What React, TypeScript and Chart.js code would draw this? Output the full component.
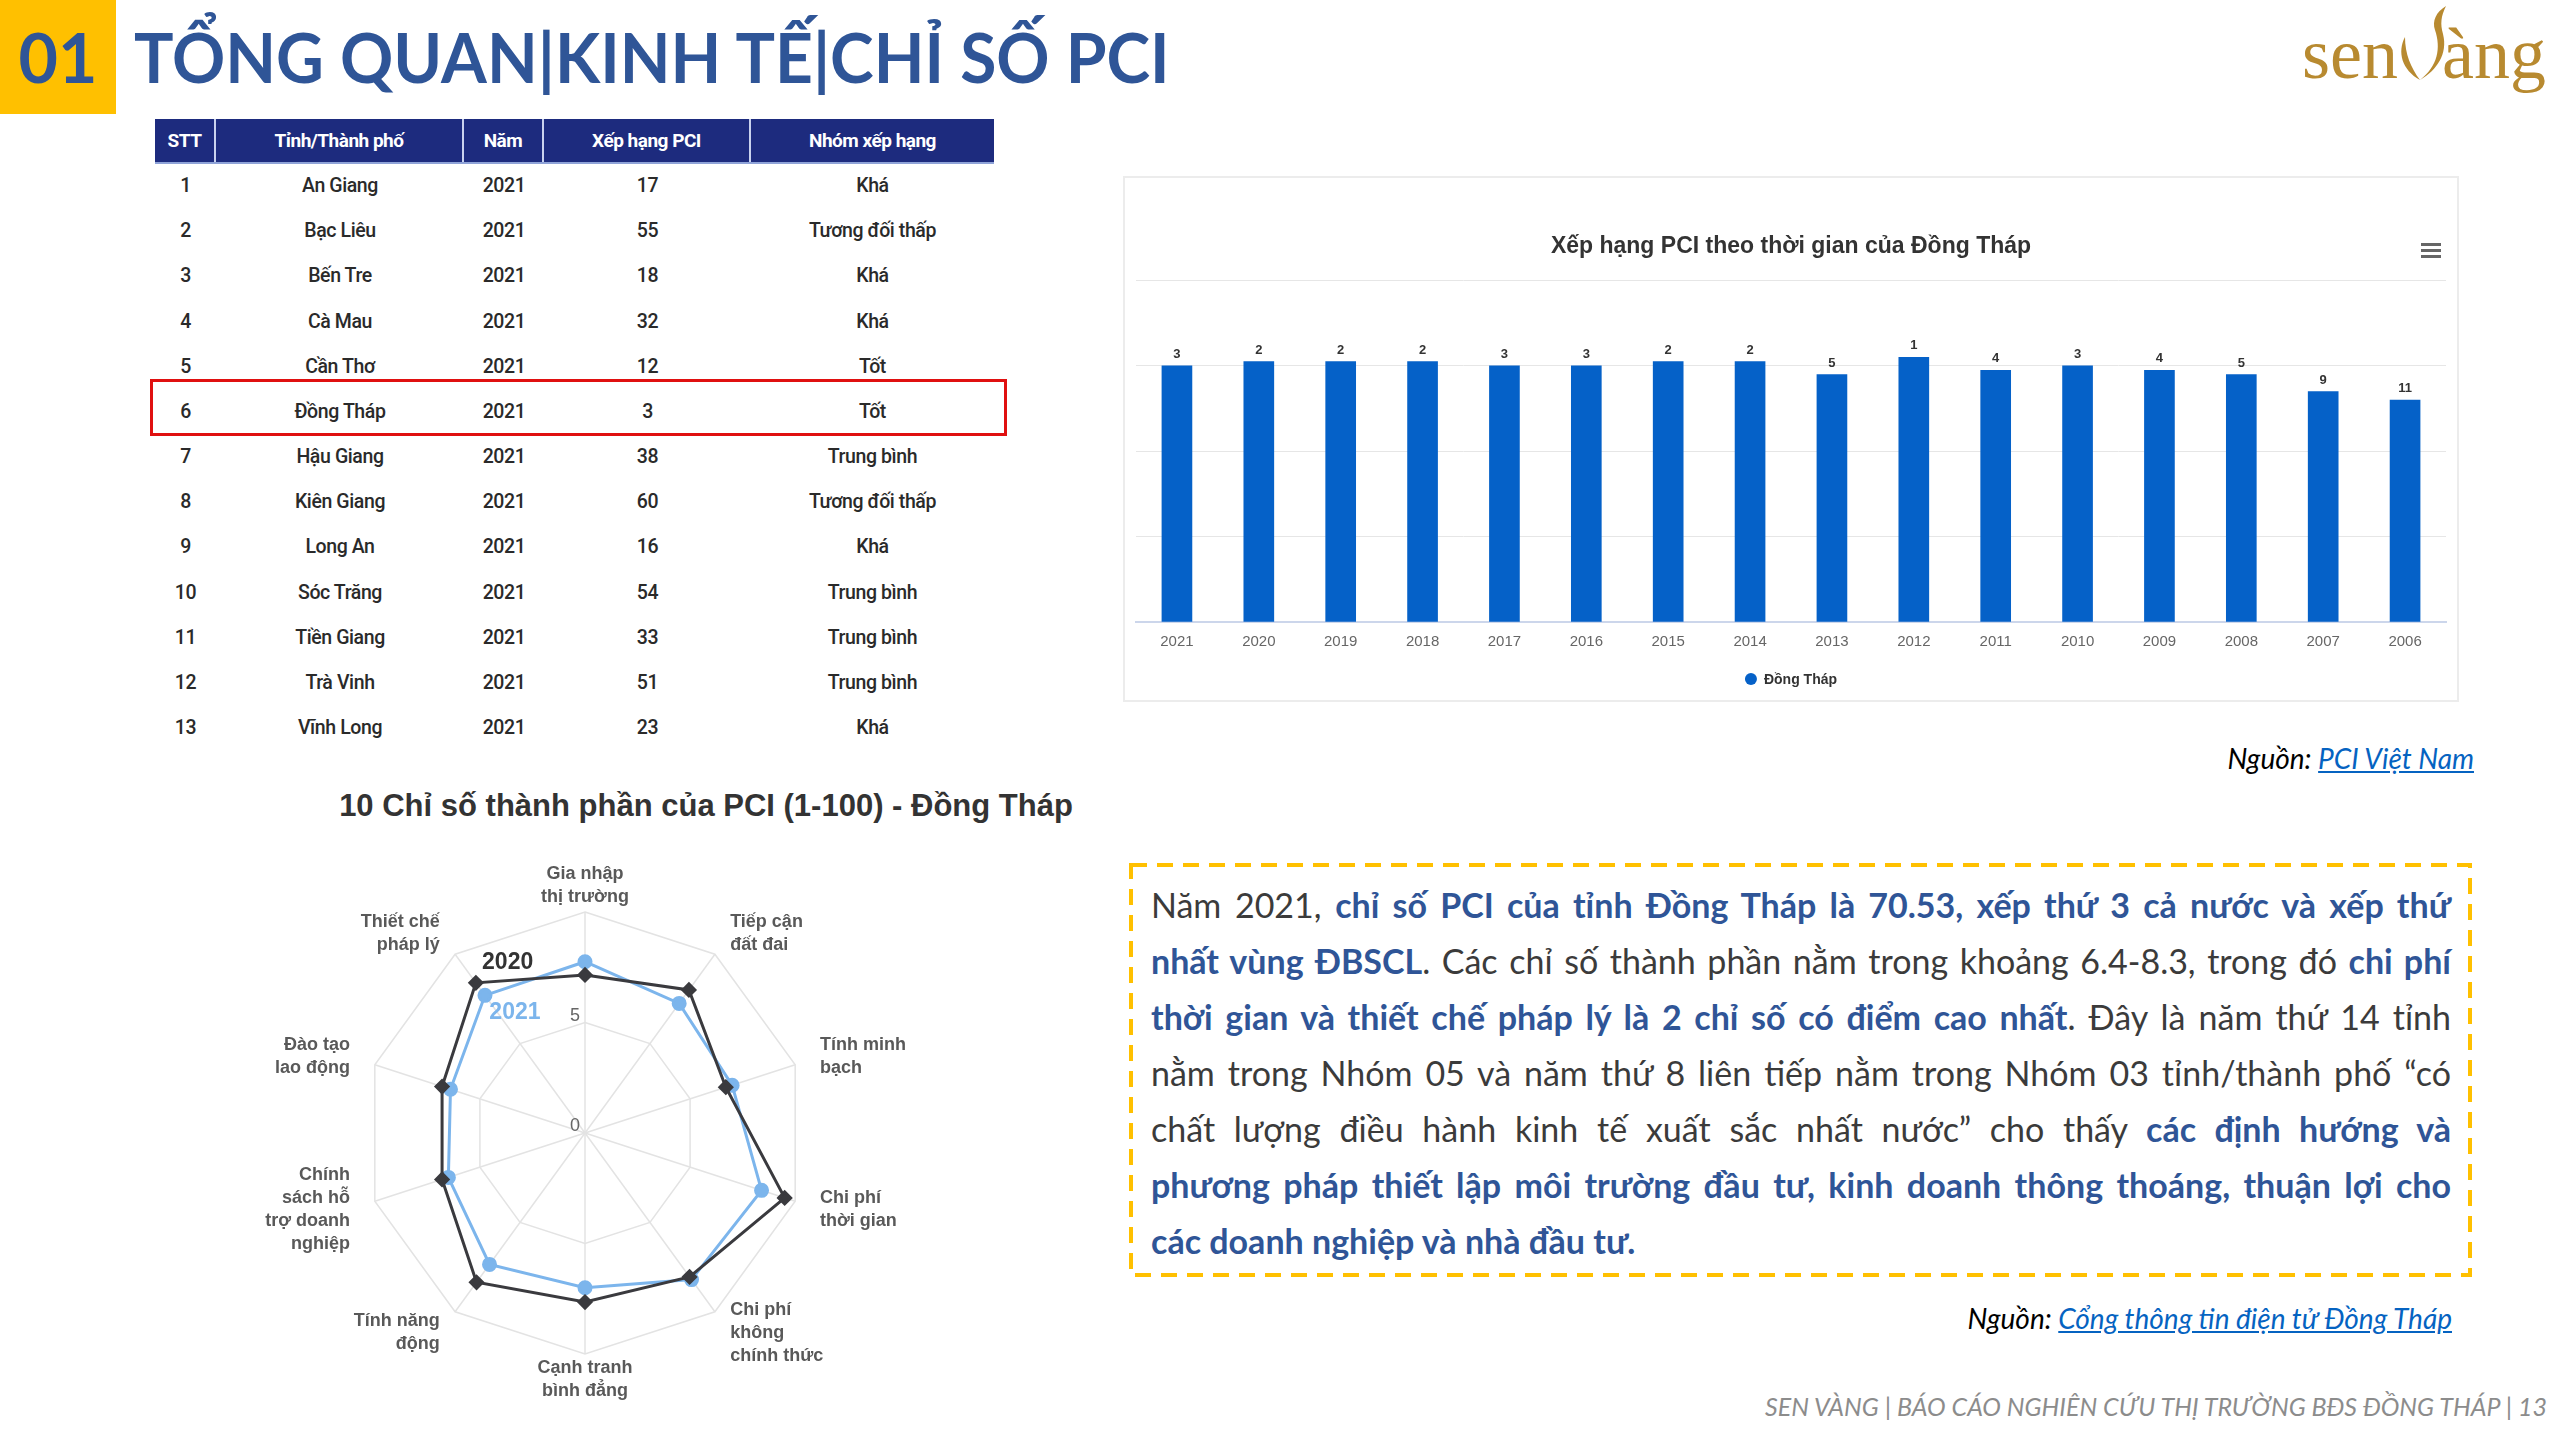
import React, { useEffect, useRef } from "react";
import { Chart, registerables } from "chart.js";

Chart.register(...registerables);

// ---------------- DATA ----------------
const tableHeaders = ["STT", "Tỉnh/Thành phố", "Năm", "Xếp hạng PCI", "Nhóm xếp hạng"];
const tableIndex = ["1", "2", "3", "4", "5", "6", "7", "8", "9", "10", "11", "12", "13"];
const tableProvinces = ["An Giang", "Bạc Liêu", "Bến Tre", "Cà Mau", "Cần Thơ", "Đồng Tháp", "Hậu Giang", "Kiên Giang", "Long An", "Sóc Trăng", "Tiền Giang", "Trà Vinh", "Vĩnh Long"];
const tableYears = ["2021", "2021", "2021", "2021", "2021", "2021", "2021", "2021", "2021", "2021", "2021", "2021", "2021"];
const tableRanks = ["17", "55", "18", "32", "12", "3", "38", "60", "16", "54", "33", "51", "23"];
const tableGroups = ["Khá", "Tương đối thấp", "Khá", "Khá", "Tốt", "Tốt", "Trung bình", "Tương đối thấp", "Khá", "Trung bình", "Trung bình", "Trung bình", "Khá"];
const highlightedRow = 5;

const barTitle = "Xếp hạng PCI theo thời gian của Đồng Tháp";
const barSeriesName = "Đồng Tháp";
const barYears = ["2021", "2020", "2019", "2018", "2017", "2016", "2015", "2014", "2013", "2012", "2011", "2010", "2009", "2008", "2007", "2006"];
const barRanks = [3, 2, 2, 2, 3, 3, 2, 2, 5, 1, 4, 3, 4, 5, 9, 11];
const barHeights = [60, 61, 61, 61, 60, 60, 61, 61, 58, 62, 59, 60, 59, 58, 54, 52];
const barYMax = 80;
const barYStep = 20;

const radarTitle = "10 Chỉ số thành phần của PCI (1-100) - Đồng Tháp";
const radarAxes = [
  ["Gia nhập", "thị trường"],
  ["Tiếp cận", "đất đai"],
  ["Tính minh", "bạch"],
  ["Chi phí", "thời gian"],
  ["Chi phí", "không", "chính thức"],
  ["Cạnh tranh", "bình đẳng"],
  ["Tính năng", "động"],
  ["Chính", "sách hỗ", "trợ doanh", "nghiệp"],
  ["Đào tạo", "lao động"],
  ["Thiết chế", "pháp lý"],
];
const radarSeriesNames = ["2020", "2021"];
const radar2020 = [7.15, 8.0, 6.7, 9.5, 8.05, 7.65, 8.35, 6.8, 6.8, 8.4];
const radar2021 = [7.75, 7.25, 7.0, 8.4, 8.2, 7.0, 7.35, 6.5, 6.4, 7.7];
const radarMax = 10;
const radarStep = 5;
const radarTickLabels = [0, 5];

const headerNumber = "01";
const headerTitle = "TỔNG QUAN|KINH TẾ|CHỈ SỐ PCI";
const source1Label = "Nguồn: ";
const source1Link = "PCI Việt Nam";
const source2Label = "Nguồn: ";
const source2Link = "Cổng thông tin điện tử Đồng Tháp";
const footerText = "SEN VÀNG | BÁO CÁO NGHIÊN CỨU THỊ TRƯỜNG BĐS ĐỒNG THÁP | 13";

// each line: [text, emphasised]
const summaryLines: [string, boolean][][] = [
  [["Năm 2021, ", false], ["chỉ số PCI của tỉnh Đồng Tháp là 70.53, xếp thứ 3 cả nước và xếp thứ", true]],
  [["nhất vùng ĐBSCL", true], [". Các chỉ số thành phần nằm trong khoảng 6.4-8.3, trong đó ", false], ["chi phí", true]],
  [["thời gian và thiết chế pháp lý là 2 chỉ số có điểm cao nhất", true], [". Đây là năm thứ 14 tỉnh", false]],
  [["nằm trong Nhóm 05 và năm thứ 8 liên tiếp nằm trong Nhóm 03 tỉnh/thành phố “có", false]],
  [["chất lượng điều hành kinh tế xuất sắc nhất nước” cho thấy ", false], ["các định hướng và", true]],
  [["phương pháp thiết lập môi trường đầu tư, kinh doanh thông thoáng, thuận lợi cho", true]],
  [["các doanh nghiệp và nhà đầu tư.", true]],
];

// ---------------- STYLE ----------------
const UI = "'Liberation Sans', Arial, sans-serif";
const SLIDE = "Lato, 'Open Sans', sans-serif";
const NAVY = "#2F5597";
const GOLD = "#FFC000";
const BAR_BLUE = "#0561c8";

function BarChart() {
  const ref = useRef<HTMLCanvasElement | null>(null);
  useEffect(() => {
    if (!ref.current) return;
    const overlay = {
      id: "barOverlay",
      afterDatasetsDraw(chart: any) {
        const { ctx } = chart;
        const meta = chart.getDatasetMeta(0);
        ctx.save();
        ctx.font = `bold 13px ${UI}`;
        ctx.fillStyle = "#333333";
        ctx.textAlign = "center";
        ctx.textBaseline = "bottom";
        meta.data.forEach((bar: any, i: number) => {
          ctx.fillText(String(barRanks[i]), bar.x, bar.y - 5);
        });
        // legend
        const a = chart.chartArea;
        const cx = (a.left + a.right) / 2;
        const ly = a.bottom + 57;
        ctx.font = `bold 14px ${UI}`;
        const tw = ctx.measureText(barSeriesName).width;
        const total = 12 + 7 + tw;
        const x0 = cx - total / 2;
        ctx.fillStyle = BAR_BLUE;
        ctx.beginPath();
        ctx.arc(x0 + 6, ly, 6, 0, Math.PI * 2);
        ctx.fill();
        ctx.fillStyle = "#333333";
        ctx.textAlign = "left";
        ctx.textBaseline = "middle";
        ctx.fillText(barSeriesName, x0 + 19, ly + 1);
        ctx.restore();
      },
    };
    const chart = new Chart(ref.current, {
      type: "bar",
      data: {
        labels: barYears,
        datasets: [
          {
            label: barSeriesName,
            data: barHeights,
            backgroundColor: BAR_BLUE,
            barThickness: 30,
          },
        ],
      },
      options: {
        animation: false,
        responsive: false,
        maintainAspectRatio: false,
        layout: { padding: { left: 13, right: 13, top: 47, bottom: 40 } },
        plugins: {
          legend: { display: false },
          tooltip: { enabled: false },
          title: {
            display: true,
            text: barTitle,
            color: "#333333",
            font: { family: UI, size: 23, weight: "bold" },
            padding: { top: 10, bottom: 20 },
          },
        },
        scales: {
          x: {
            grid: { display: false, drawTicks: false },
            border: { display: true, color: "#ccd6eb", width: 2 },
            ticks: { color: "#666666", font: { family: UI, size: 15 }, padding: 11 },
          },
          y: {
            min: 0,
            max: barYMax,
            ticks: { display: false, stepSize: barYStep },
            grid: { color: "#e6e6e6", drawTicks: false, lineWidth: 1 },
            border: { display: false },
          },
        },
      },
      plugins: [overlay],
    } as any);
    return () => chart.destroy();
  }, []);
  return (
    <canvas
      ref={ref}
      width={1336}
      height={526}
      style={{ position: "absolute", left: 1123, top: 176, width: 1336, height: 526 }}
    />
  );
}

function RadarChart() {
  const ref = useRef<HTMLCanvasElement | null>(null);
  useEffect(() => {
    if (!ref.current) return;
    const overlay = {
      id: "radarOverlay",
      afterDraw(chart: any) {
        const { ctx } = chart;
        const s = chart.scales.r;
        ctx.save();
        // axis labels
        ctx.font = `bold 18px ${UI}`;
        ctx.fillStyle = "#595959";
        ctx.textBaseline = "middle";
        const lh = 23;
        radarAxes.forEach((lines, i) => {
          const p = s.getPointPosition(i, s.drawingArea + 26);
          const dx = p.x - s.xCenter;
          ctx.textAlign = Math.abs(dx) < 2 ? "center" : dx > 0 ? "left" : "right";
          const y0 = p.y - ((lines.length - 1) * lh) / 2;
          lines.forEach((t, k) => ctx.fillText(t, p.x, y0 + k * lh));
        });
        // tick labels
        ctx.font = `18px ${UI}`;
        ctx.fillStyle = "#666666";
        ctx.textAlign = "right";
        ctx.textBaseline = "alphabetic";
        radarTickLabels.forEach((v) => {
          const y = s.yCenter - s.getDistanceFromCenterForValue(v);
          ctx.fillText(String(v), s.xCenter - 5, y - 2);
        });
        // series labels
        const D = s.drawingArea;
        ctx.font = `bold 23px ${UI}`;
        ctx.textAlign = "center";
        ctx.textBaseline = "middle";
        ctx.fillStyle = "#333333";
        ctx.fillText(radarSeriesNames[0], s.xCenter - 0.35 * D, s.yCenter - 0.77 * D);
        ctx.fillStyle = "#7cb5ec";
        ctx.fillText(radarSeriesNames[1], s.xCenter - 0.317 * D, s.yCenter - 0.545 * D);
        ctx.restore();
      },
    };
    const chart = new Chart(ref.current, {
      type: "radar",
      data: {
        labels: radarAxes.map((l) => l.join(" ")),
        datasets: [
          {
            label: radarSeriesNames[0],
            data: radar2020,
            borderColor: "#3a3a3e",
            backgroundColor: "#3a3a3e",
            pointBackgroundColor: "#3a3a3e",
            pointBorderColor: "#3a3a3e",
            pointStyle: "rectRot",
            pointRadius: 6,
            borderWidth: 3,
            fill: false,
          },
          {
            label: radarSeriesNames[1],
            data: radar2021,
            borderColor: "#7cb5ec",
            backgroundColor: "#7cb5ec",
            pointBackgroundColor: "#7cb5ec",
            pointBorderColor: "#7cb5ec",
            pointStyle: "circle",
            pointRadius: 6,
            borderWidth: 3,
            fill: false,
          },
        ],
      },
      options: {
        animation: false,
        responsive: false,
        maintainAspectRatio: false,
        layout: { padding: { left: 114, right: 114, top: 52, bottom: 66 } },
        plugins: { legend: { display: false }, tooltip: { enabled: false } },
        scales: {
          r: {
            min: 0,
            max: radarMax,
            ticks: { display: false, stepSize: radarStep },
            pointLabels: { display: false },
            grid: { color: "#e3e3e3", lineWidth: 1.5 },
            angleLines: { color: "#e3e3e3", lineWidth: 1.5 },
          },
        },
      },
      plugins: [overlay],
    } as any);
    return () => chart.destroy();
  }, []);
  return (
    <canvas
      ref={ref}
      width={670}
      height={560}
      style={{ position: "absolute", left: 250, top: 860, width: 670, height: 560 }}
    />
  );
}

function Table() {
  const colW = [61, 248, 80, 207, 243];
  const left = 155;
  const headTop = 119;
  const headH = 43;
  const rowH = 45.17;
  const cols = [tableIndex, tableProvinces, tableYears, tableRanks, tableGroups];
  return (
    <div>
      <div
        style={{
          position: "absolute",
          left,
          top: headTop,
          height: headH,
          display: "flex",
          background: "#1d2b7e",
          borderBottom: "2px solid #8fa3d8",
        }}
      >
        {tableHeaders.map((h, i) => (
          <div
            key={i}
            style={{
              width: colW[i],
              height: headH,
              lineHeight: headH + "px",
              textAlign: "center",
              color: "#ffffff",
              fontFamily: "Roboto, sans-serif",
              fontWeight: 700,
              fontSize: 19,
              boxSizing: "border-box",
              borderRight: i < colW.length - 1 ? "2px solid #c9d2ee" : "none",
              letterSpacing: -0.5,
            }}
          >
            {h}
          </div>
        ))}
      </div>
      {tableIndex.map((_, r) => (
        <div
          key={r}
          style={{
            position: "absolute",
            left,
            top: headTop + headH + 1 + r * rowH,
            height: rowH,
            display: "flex",
          }}
        >
          {cols.map((c, i) => (
            <div
              key={i}
              style={{
                width: colW[i],
                height: rowH,
                lineHeight: rowH + "px",
                textAlign: "center",
                color: "#2a2a2a",
                fontFamily: "Roboto, sans-serif",
                fontWeight: 500,
                fontSize: 19.5,
                letterSpacing: -0.4,
              }}
            >
              {c[r]}
            </div>
          ))}
        </div>
      ))}
      <div
        style={{
          position: "absolute",
          left: 150,
          top: 379,
          width: 857,
          height: 57,
          boxSizing: "border-box",
          border: "3px solid #e01010",
        }}
      />
    </div>
  );
}

function Logo() {
  const color = "#b88a30";
  return (
    <div style={{ position: "absolute", left: 2300, top: 0, width: 250, height: 100 }}>
      <div
        style={{
          position: "absolute",
          left: 2,
          top: 18,
          fontFamily: "'Liberation Serif', 'DejaVu Serif', serif",
          fontSize: 72,
          lineHeight: "72px",
          color,
        }}
      >
        sen
      </div>
      <svg style={{ position: "absolute", left: 94, top: 6 }} width="58" height="78" viewBox="0 0 58 78">
        <path d="M26 74 C 8 64, 3 46, 11 31 C 11 48, 17 62, 26 74 Z" fill={color} />
        <path d="M26 74 C 44 60, 47 42, 41 24 C 38 15, 42 6, 52 0 C 47 10, 46 18, 49 28 C 54 48, 43 64, 26 74 Z" fill={color} />
      </svg>
      <div
        style={{
          position: "absolute",
          left: 142,
          top: 18,
          fontFamily: "'Liberation Serif', 'DejaVu Serif', serif",
          fontSize: 72,
          lineHeight: "72px",
          color,
        }}
      >
        àng
      </div>
    </div>
  );
}

function SummaryBox() {
  const lineTop = 877;
  const lineH = 56;
  return (
    <div>
      <svg style={{ position: "absolute", left: 1128, top: 862 }} width="1346" height="417">
        <rect x="3" y="3" width="1339" height="410" fill="none" stroke={GOLD} strokeWidth="4" strokeDasharray="16 10" />
      </svg>
      {summaryLines.map((segs, i) => (
        <div
          key={i}
          style={{
            position: "absolute",
            left: 1151,
            top: lineTop + i * lineH,
            width: 1300,
            height: lineH,
            lineHeight: lineH + "px",
            fontFamily: SLIDE,
            fontSize: 34,
            color: "#3b3b3b",
            whiteSpace: "nowrap",
            textAlign: i === summaryLines.length - 1 ? "left" : "justify",
            textAlignLast: i === summaryLines.length - 1 ? "left" : "justify",
          } as any}
        >
          {segs.map(([t, em], k) => (
            <span key={k} style={{ fontWeight: em ? 700 : 400, color: em ? NAVY : "#3b3b3b" }}>
              {t}
            </span>
          ))}
        </div>
      ))}
    </div>
  );
}

export default function App() {
  return (
    <div
      style={{
        position: "absolute",
        left: 0,
        top: 0,
        width: 2560,
        height: 1440,
        overflow: "hidden",
        background: "#ffffff",
      }}
    >
      {/* header */}
      <div style={{ position: "absolute", left: 0, top: 0, width: 116, height: 114, background: GOLD }} />
      <div
        style={{
          position: "absolute",
          left: 0,
          top: 0,
          width: 116,
          height: 114,
          lineHeight: "114px",
          textAlign: "center",
          fontFamily: SLIDE,
          fontWeight: 700,
          fontSize: 68,
          color: NAVY,
        }}
      >
        {headerNumber}
      </div>
      <div
        style={{
          position: "absolute",
          left: 134,
          top: 0,
          height: 114,
          lineHeight: "114px",
          fontFamily: SLIDE,
          fontWeight: 700,
          fontSize: 68,
          color: NAVY,
          whiteSpace: "nowrap",
          transform: "scaleX(0.97)",
          transformOrigin: "0 50%",
        }}
      >
        {headerTitle}
      </div>
      <Logo />

      <Table />

      {/* bar chart container */}
      <div
        style={{
          position: "absolute",
          left: 1123,
          top: 176,
          width: 1336,
          height: 526,
          boxSizing: "border-box",
          border: "2px solid #ececec",
        }}
      />
      <BarChart />
      <div style={{ position: "absolute", left: 2421, top: 242, width: 20, height: 18 }}>
        {[0, 1, 2].map((k) => (
          <div key={k} style={{ position: "absolute", left: 0, top: k * 6 + 1, width: 20, height: 3, background: "#666666" }} />
        ))}
      </div>

      <div
        style={{
          position: "absolute",
          right: 86,
          top: 741,
          fontFamily: SLIDE,
          fontStyle: "italic",
          fontSize: 28,
          color: "#000000",
          whiteSpace: "nowrap",
        }}
      >
        {source1Label}
        <span style={{ color: "#0563C1", textDecoration: "underline" }}>{source1Link}</span>
      </div>

      {/* radar */}
      <div
        style={{
          position: "absolute",
          left: 306,
          top: 788,
          width: 800,
          textAlign: "center",
          fontFamily: UI,
          fontWeight: 700,
          fontSize: 31,
          color: "#333333",
          whiteSpace: "nowrap",
        }}
      >
        {radarTitle}
      </div>
      <RadarChart />

      <SummaryBox />

      <div
        style={{
          position: "absolute",
          right: 108,
          top: 1301,
          fontFamily: SLIDE,
          fontStyle: "italic",
          fontSize: 28,
          color: "#000000",
          whiteSpace: "nowrap",
        }}
      >
        {source2Label}
        <span style={{ color: "#0563C1", textDecoration: "underline" }}>{source2Link}</span>
      </div>

      <div
        style={{
          position: "absolute",
          right: 13,
          top: 1391,
          fontFamily: SLIDE,
          fontStyle: "italic",
          fontWeight: 400,
          fontSize: 25,
          color: "#8c8c8c",
          whiteSpace: "nowrap",
        }}
      >
        {footerText}
      </div>
    </div>
  );
}
